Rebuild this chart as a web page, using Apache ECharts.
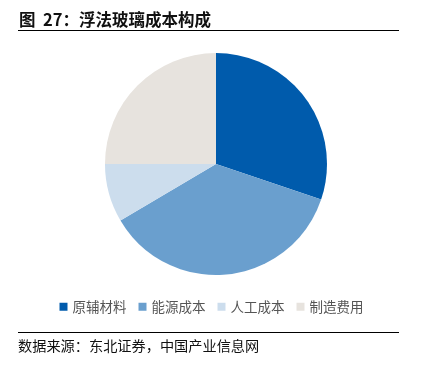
<!DOCTYPE html>
<html>
<head>
<meta charset="utf-8">
<script src="https://cdn.jsdelivr.net/npm/echarts@6.0.0/dist/echarts.min.js"></script>
<style>
  html, body { margin: 0; padding: 0; background: #fff; }
  #chart { width: 423px; height: 367px; }
</style>
</head>
<body>
<div id="chart"></div>
<script>
// cost share of float glass (%)
var categories = ['原辅材料', '能源成本', '人工成本', '制造费用'];
var shares = [30.2, 36.3, 8.5, 25.0];
var colors = ['#005BAC', '#6A9FCE', '#CCDDED', '#E7E3DE'];

var titleText = '图  27：浮法玻璃成本构成';
var sourceText = '数据来源：东北证券，中国产业信息网';

(function() {
  var cjk = '"Noto Sans CJK SC", "Noto Sans", sans-serif';
  var chart = echarts.init(document.getElementById('chart'), null, { renderer: 'canvas' });

  var option = {
    animation: false,
    color: colors,
    title: {
      text: titleText,
      left: 14,
      top: 6,
      textStyle: { fontFamily: cjk, fontSize: 16.5, fontWeight: 'bold', color: '#111' }
    },
    legend: {
      data: categories,
      left: 'center',
      top: 295,
      icon: 'rect',
      itemWidth: 8,
      itemHeight: 8,
      itemGap: 12,
      textStyle: { fontFamily: cjk, fontSize: 13.5, color: '#555' }
    },
    graphic: [
      {
        type: 'line',
        shape: { x1: 18, y1: 30.5, x2: 399, y2: 30.5 },
        style: { stroke: '#000', lineWidth: 1 }
      },
      {
        type: 'line',
        shape: { x1: 18, y1: 332.5, x2: 399, y2: 332.5 },
        style: { stroke: '#000', lineWidth: 1 }
      },
      {
        type: 'text',
        left: 18,
        top: 339,
        style: { text: sourceText, font: '14.2px ' + cjk, fill: '#111' }
      }
    ],
    series: [
      {
        type: 'pie',
        center: [216, 164],
        radius: 111,
        startAngle: 90,
        clockwise: true,
        label: { show: false },
        labelLine: { show: false },
        itemStyle: { borderWidth: 0 },
        emphasis: { disabled: true },
        data: categories.map(function(name, i) {
          return { name: name, value: shares[i] };
        })
      }
    ]
  };

  chart.setOption(option);
})();
</script>
</body>
</html>
